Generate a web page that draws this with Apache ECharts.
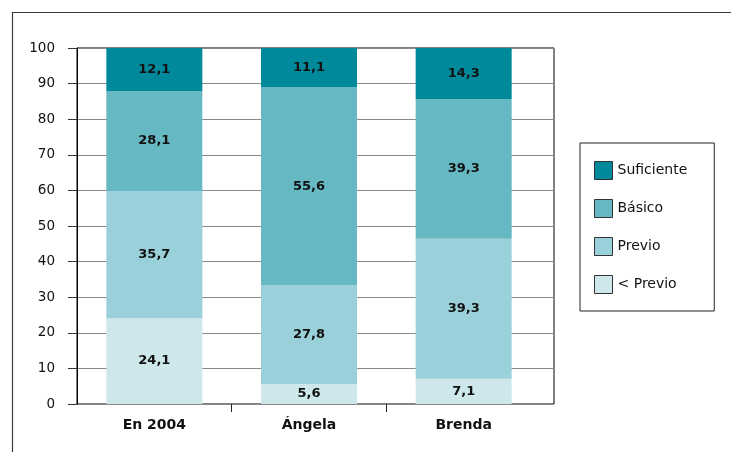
<!DOCTYPE html>
<html>
<head>
<meta charset="utf-8">
<script src="https://cdn.jsdelivr.net/npm/echarts@6/dist/echarts.min.js"></script>
<style>
html,body{margin:0;padding:0;background:#fff;}
#c{width:731px;height:452px;}
</style>
</head>
<body>
<div id="c"></div>
<script>
const categories = ['En 2004', 'Ángela', 'Brenda'];
const seriesNames = ['< Previo', 'Previo', 'Básico', 'Suficiente'];
const menosPrevio = [24.1, 5.6, 7.1];
const previo = [35.7, 27.8, 39.3];
const basico = [28.1, 55.6, 39.3];
const suficiente = [12.1, 11.1, 14.3];
const yTicks = [0, 10, 20, 30, 40, 50, 60, 70, 80, 90, 100];
const categoryBoundaries = [1, 2];

const colors = ['#CDE7EA', '#9AD0D9', '#66B8C2', '#00899A'];
const values = [menosPrevio, previo, basico, suficiente];
const FONT = 'DejaVu Sans';

const chart = echarts.init(document.getElementById('c'));

const series = seriesNames.map((name, i) => ({
  name: name,
  type: 'bar',
  stack: 'total',
  xAxisIndex: 1,
  yAxisIndex: 1,
  barWidth: 96,
  data: values[i],
  itemStyle: { color: colors[i] },
  label: {
    show: true,
    position: 'inside',
    color: '#111',
    fontFamily: FONT,
    fontWeight: 'bold',
    fontSize: 13,
    formatter: p => p.value.toFixed(1).replace('.', ',')
  },
  emphasis: { disabled: true }
}));

chart.setOption({
  animation: false,
  backgroundColor: '#fff',
  graphic: [{
    type: 'rect',
    shape: { x: 12.5, y: 12.5, width: 900, height: 600 },
    style: { fill: 'none', stroke: '#3a3a3a', lineWidth: 1.2 },
    silent: true,
    z: -1
  }],
  legend: {
    orient: 'vertical',
    left: 580,
    top: 143,
    padding: [18, 27, 17, 14],
    itemWidth: 18,
    itemHeight: 18,
    itemGap: 19,
    borderColor: '#222',
    borderWidth: 1,
    icon: 'rect',
    itemStyle: { borderColor: '#333', borderWidth: 1 },
    textStyle: { fontFamily: FONT, fontSize: 14, color: '#111' },
    data: ['Suficiente', 'Básico', 'Previo', '< Previo'],
    selectedMode: false
  },
  grid: [
    { left: 77, top: 48, width: 477, height: 356, show: true, borderColor: '#000', borderWidth: 1, backgroundColor: 'transparent', containLabel: false },
    { left: 77, top: 48, width: 464, height: 356, containLabel: false },
    { left: 77, top: 48, width: 464, height: 356, containLabel: false }
  ],
  xAxis: [
    { gridIndex: 0, type: 'value', min: 0, max: 1, show: false },
    {
      gridIndex: 1, type: 'category', data: categories,
      axisLine: { show: false }, axisTick: { show: false },
      axisLabel: { fontFamily: FONT, fontWeight: 'bold', fontSize: 14, color: '#111', margin: 14 }
    },
    {
      gridIndex: 2, type: 'value', min: 0, max: categories.length, interval: 1,
      axisLine: { show: false }, splitLine: { show: false },
      axisLabel: { show: false },
      axisTick: { show: true, length: 8, lineStyle: { color: '#222', width: 1 }, customValues: categoryBoundaries }
    }
  ],
  yAxis: [
    {
      gridIndex: 0, type: 'value', min: 0, max: 100, interval: 10,
      axisLine: { show: true, lineStyle: { color: '#000', width: 1 } },
      axisTick: { show: true, length: 9, inside: false, lineStyle: { color: '#333' } },
      splitLine: { show: true, lineStyle: { color: '#8a8a8a', width: 1 } },
      axisLabel: { fontFamily: FONT, fontSize: 13.5, color: '#111', margin: 22 }
    },
    { gridIndex: 1, type: 'value', min: 0, max: 100, show: false },
    { gridIndex: 2, type: 'value', min: 0, max: 100, show: false }
  ],
  series: series
});
</script>
</body>
</html>
